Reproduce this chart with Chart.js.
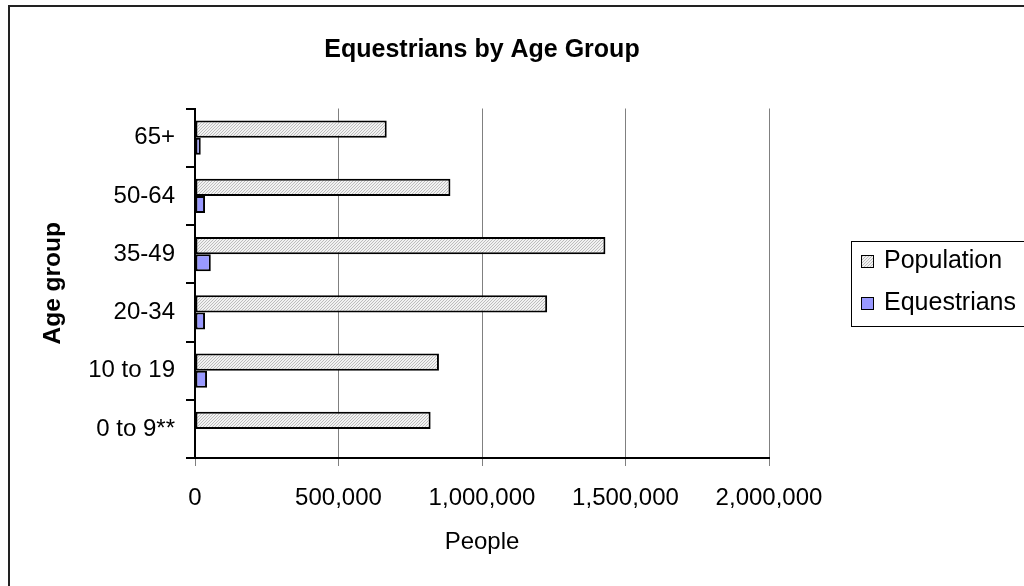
<!DOCTYPE html>
<html><head><meta charset="utf-8">
<script src="https://cdn.jsdelivr.net/npm/chart.js@4/dist/chart.umd.min.js"></script>
<style>html,body{margin:0;padding:0;background:#fff;overflow:hidden}#wrap{width:1024px;height:586px;position:relative}</style>
</head><body><div id="wrap"><canvas id="c" width="1024" height="586"></canvas></div>
<script>
const categories = ['65+', '50-64', '35-49', '20-34', '10 to 19', '0 to 9**'];
const population = [668000, 890000, 1430000, 1227000, 850000, 821000];
const equestrians = [20000, 35000, 55000, 35000, 42000, null];
const xTickValues = [0, 500000, 1000000, 1500000, 2000000];
const seriesNames = ['Population', 'Equestrians'];
const chartTitle = 'Equestrians by Age Group';
const xTitle = 'People';
const yTitle = 'Age group';

const FONT = "'Liberation Sans', Arial, sans-serif";
const canvas = document.getElementById('c');
const ctx = canvas.getContext('2d');

function makeHatch() {
  const p = document.createElement('canvas');
  p.width = 3; p.height = 3;
  const g = p.getContext('2d');
  g.fillStyle = '#f2f2f2'; g.fillRect(0, 0, 3, 3);
  g.fillStyle = '#bdbdbd';
  for (let i = 0; i < 3; i++) g.fillRect(i, 2 - i, 1, 1);
  return ctx.createPattern(p, 'repeat');
}
const hatch = makeHatch();
const equColor = '#9999ff';

const decor = {
  id: 'decor',
  beforeDraw(chart) {
    const c = chart.ctx;
    c.save(); c.fillStyle = '#fff'; c.fillRect(0, 0, chart.width, chart.height); c.restore();
  },
  afterDraw(chart) {
    const c = chart.ctx;
    const a = chart.chartArea;
    c.save();
    // outer frame
    c.strokeStyle = '#222'; c.lineWidth = 2;
    c.strokeRect(9, 6, 1200, 800);
    // title
    c.fillStyle = '#000';
    c.textAlign = 'center'; c.textBaseline = 'alphabetic';
    c.font = 'bold 25px ' + FONT;
    c.fillText(chartTitle, (a.left + a.right) / 2, 57);
    // x title
    c.font = '24px ' + FONT;
    c.fillText(xTitle, (a.left + a.right) / 2, 549);
    // y title
    c.save();
    c.translate(60, (a.top + a.bottom) / 2);
    c.rotate(-Math.PI / 2);
    c.font = 'bold 24.5px ' + FONT;
    c.fillText(yTitle, 0, 0);
    c.restore();
    // legend
    c.strokeStyle = '#000'; c.lineWidth = 1;
    c.strokeRect(851.5, 241.5, 300, 85);
    const items = chart.data.datasets;
    const ys = [268, 310];
    c.textAlign = 'left';
    c.font = '25px ' + FONT;
    items.forEach((ds, i) => {
      c.fillStyle = ds.backgroundColor;
      c.fillRect(862, ys[i] - 12, 11, 11);
      c.strokeStyle = '#000'; c.lineWidth = 1;
      c.strokeRect(861.5, ys[i] - 12.5, 12, 12);
      c.fillStyle = '#000';
      c.fillText(ds.label, 884, ys[i]);
    });
    c.restore();
  }
};

new Chart(ctx, {
  type: 'bar',
  data: {
    labels: categories,
    datasets: [
      { label: seriesNames[0], data: population, backgroundColor: hatch, borderColor: '#000', borderWidth: 2, borderSkipped: false },
      { label: seriesNames[1], data: equestrians, backgroundColor: equColor, borderColor: '#000', borderWidth: 2, borderSkipped: false }
    ]
  },
  options: {
    indexAxis: 'y',
    responsive: false,
    animation: false,
    devicePixelRatio: 1,
    categoryPercentage: 0.59,
    barPercentage: 1,
    layout: { padding: { top: 108.5, right: 255, bottom: 0, left: 0 } },
    plugins: { legend: { display: false }, title: { display: false }, tooltip: { enabled: false } },
    scales: {
      x: {
        min: 0, max: 2000000,
        afterBuildTicks: s => { s.ticks = xTickValues.map(v => ({ value: v })); },
        afterFit: s => { s.height = 128; },
        ticks: { callback: v => Number(v).toLocaleString('en-US'), color: '#000', font: { family: FONT, size: 24 }, padding: 18, maxRotation: 0, autoSkip: false },
        grid: { color: '#808080', lineWidth: 1, tickLength: 8, tickColor: '#808080' },
        border: { color: '#000', width: 2 }
      },
      y: {
        afterFit: s => { s.width = 195; },
        ticks: { color: '#000', font: { family: FONT, size: 24 }, padding: 11 },
        grid: { drawOnChartArea: false, tickLength: 9, tickColor: '#000', lineWidth: 2 },
        border: { color: '#000', width: 2 }
      }
    }
  },
  plugins: [decor]
});
</script>
</body></html>
